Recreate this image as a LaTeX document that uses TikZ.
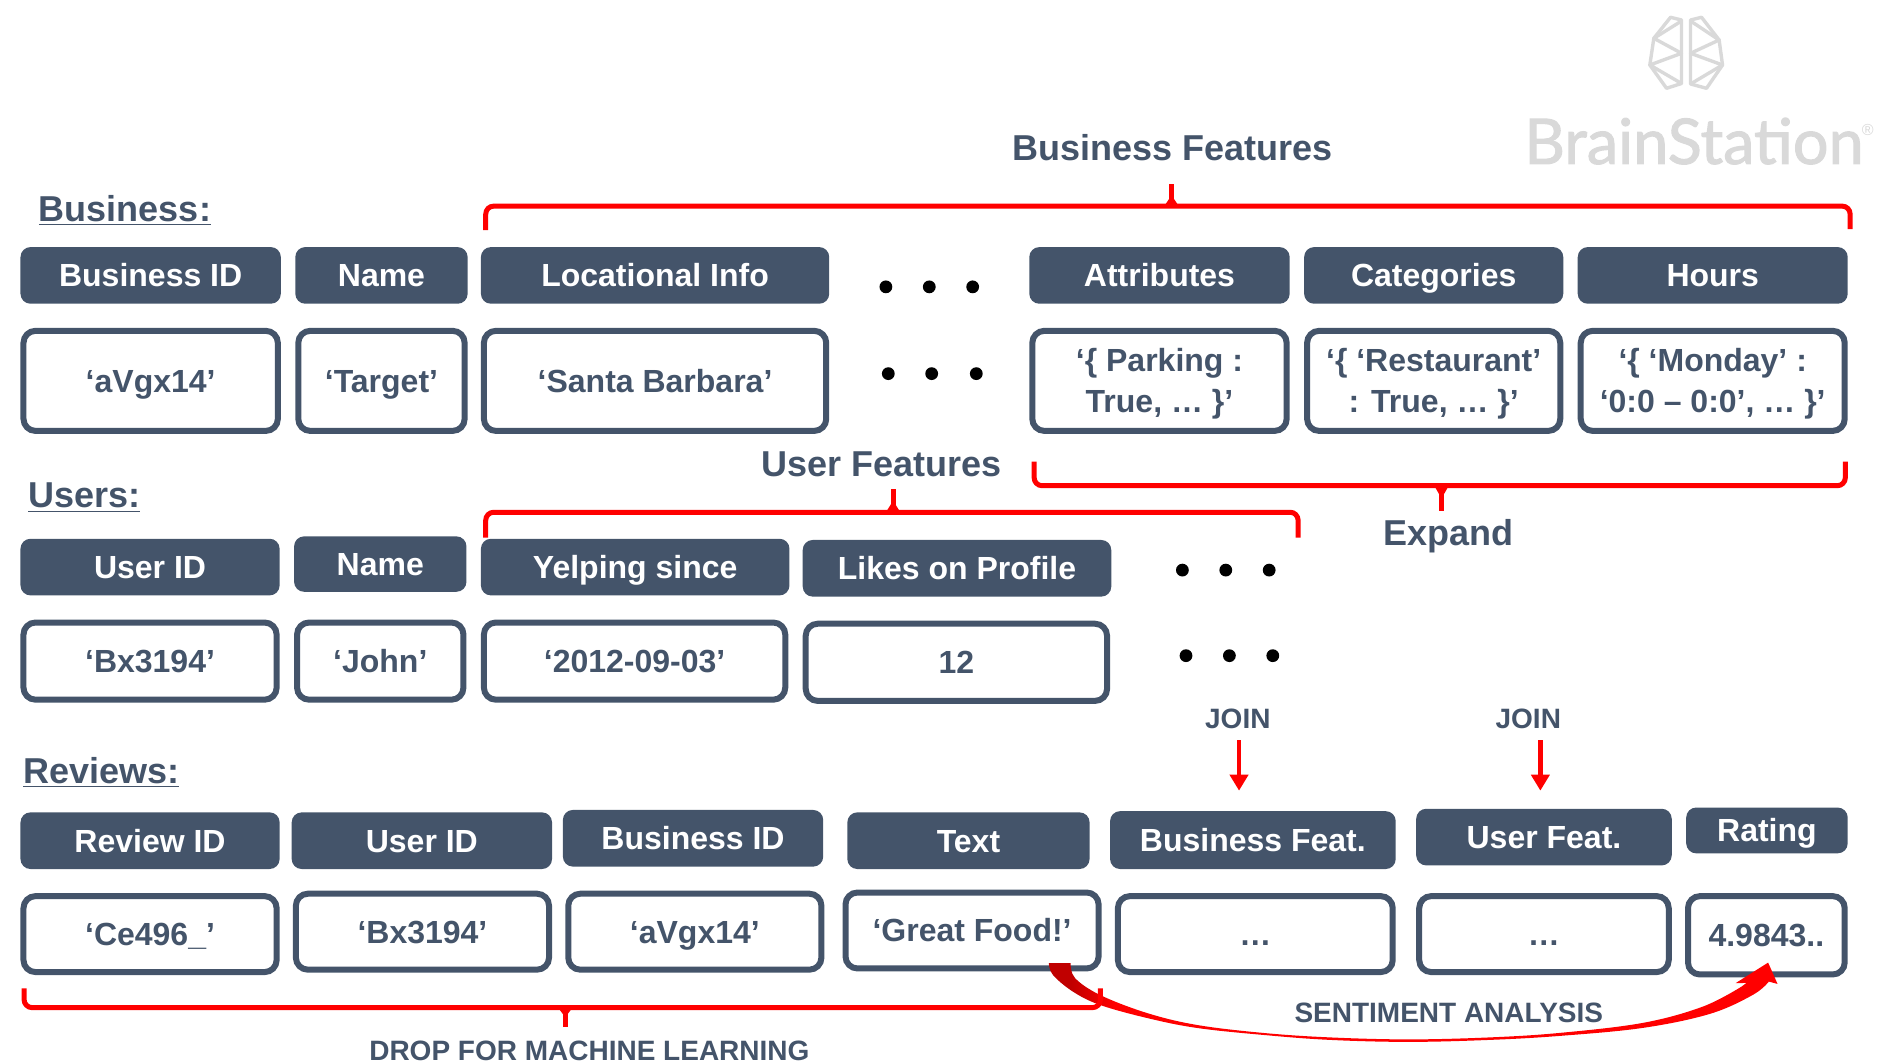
\documentclass[tikz,border=0pt]{standalone}
\usepackage{fontspec}
\setmainfont{Liberation Sans}
\newfontfamily\logofont[FakeBold=1.6]{Lato}
\usetikzlibrary{arrows.meta}
\definecolor{slate}{HTML}{44546A}
\definecolor{logogray}{HTML}{D9D9D9}
\definecolor{swooshdark}{HTML}{C00000}
\pgfdeclarehorizontalshading{swooshfade}{100bp}{color(0bp)=(swooshdark); color(26.5bp)=(swooshdark); color(29.5bp)=(red); color(100bp)=(red)}
\newcommand{\vstrut}{\rule[-4pt]{0pt}{19.5pt}}
\tikzset{
  hdr/.style={draw=none,fill=slate,text=white,rounded corners=5pt,inner sep=0pt,outer sep=0pt,align=center,font=\fontsize{16}{19.3}\selectfont\bfseries},
  valb/.style={draw=slate,line width=3pt,fill=white,text=slate,rounded corners=6pt,inner sep=0pt,outer sep=0pt,align=center,font=\fontsize{16}{19.3}\selectfont\bfseries},
  title/.style={text=slate,inner sep=0pt,font=\fontsize{18}{22}\selectfont\bfseries},
  small/.style={text=slate,inner sep=0pt,font=\fontsize{14}{16}\selectfont\bfseries},
  bracket/.style={draw=red,line width=2.5pt,rounded corners=4pt},
  tickline/.style={draw=red,line width=2.4pt},
  joinarrow/.style={draw=red,line width=2.4pt,-{Triangle[length=8pt,width=9pt]}},
  dotm/.style={circle,fill=black,minimum size=6.4pt,inner sep=0pt},
  logoline/.style={draw=logogray,line width=1.7pt,line join=round},
  px/.style={x=0.5pt,y=-0.5pt}
}
\newcommand{\hdrbox}[6]{\node[hdr,minimum width={(#4-#2)*0.6027pt},minimum height={(#5-#3)*0.6027pt}] (#1) at ({(#2+#4)/2},{(#3+#5)/2}) {\vstrut #6};}
\newcommand{\valbox}[6]{\node[valb,minimum width={(#4-#2)*0.6027pt-3pt},minimum height={(#5-#3)*0.6027pt-3pt}] (#1) at ({(#2+#4)/2},{(#3+#5)/2}) {\vstrut #6\vstrut};}
\newcommand{\bracktick}[3]{\fill[red] (#1-6,#2) -- (#1,{#2+(#3-#2)*0.5}) -- (#1+6,#2) -- cycle; \draw[tickline] (#1,#2) -- (#1,#3);}
\begin{document}
\begin{tikzpicture}[x=0.6027pt,y=-0.6027pt]
\useasboundingbox (0,0) rectangle (1568.1,881.9);
% logo, in picture pixels
\begin{scope}[px]
\draw[logoline] (1681.7,20) -- (1670.7,17.3) -- (1654,38.3) -- (1650,65) -- (1666.7,88.3) -- (1681.7,83.5) -- cycle;
\draw[logoline] (1681.7,21) -- (1654,38.3) -- (1681.7,53.3) -- (1650,65) -- (1681.7,83.5);
\draw[logoline] (1690.7,20) -- (1701.7,17.3) -- (1719.3,40) -- (1722.7,65) -- (1706.7,88.3) -- (1690.7,84) -- cycle;
\draw[logoline] (1690.7,21) -- (1719.3,40) -- (1690.7,53.3) -- (1722.7,65) -- (1690.7,84);
\node[anchor=base west,inner sep=0pt,text=logogray,font=\logofont\fontsize{31.5}{31.5}\selectfont] (logo) at (1524,164) {BrainStation};
\node[inner sep=0pt,text=logogray,font=\fontsize{8}{8}\selectfont] (reg) at (1868,130) {®};
\end{scope}
% titles
\node[title] (tbf) at (972.5,122.5) {Business Features};
\node[title,anchor=west] (tbus) at (32,174.5) {\underline{Business:}};
\node[title,anchor=west] (tusr) at (23,413) {\underline{Users:}};
\node[title,anchor=west] (trev) at (19,641) {\underline{Reviews:}};
\node[title] (tuf) at (731,385) {User Features};
\node[title] (texp) at (1201.5,445) {Expand};
\node[small] (join1) at (1027,596.5) {JOIN};
\node[small] (join2) at (1268,596.5) {JOIN};
\node[small] (tsent) at (1202,840) {SENTIMENT ANALYSIS};
\node[small] (tdrop) at (489,872) {DROP FOR MACHINE LEARNING};
% business
\hdrbox{bh1}{17}{205}{233}{252}{Business ID}
\hdrbox{bh2}{245}{205}{388}{252}{Name}
\hdrbox{bh3}{399}{205}{688}{252}{Locational Info}
\hdrbox{bh4}{854}{205}{1070}{252}{Attributes}
\hdrbox{bh5}{1082}{205}{1297}{252}{Categories}
\hdrbox{bh6}{1309}{205}{1533}{252}{Hours}
\valbox{bv1}{17}{272}{233}{360}{‘aVgx14’}
\valbox{bv2}{245}{272}{388}{360}{‘Target’}
\valbox{bv3}{399}{272}{688}{360}{‘Santa Barbara’}
\valbox{bv4}{854}{272}{1070}{360}{‘\{ Parking :\\True, … \}’}
\valbox{bv5}{1082}{272}{1297}{360}{‘\{ ‘Restaurant’\\: True, … \}’}
\valbox{bv6}{1309}{272}{1533}{360}{‘\{ ‘Monday’ :\\‘0:0 – 0:0’, … \}’}
% users
\hdrbox{uh1}{17}{447}{232}{494}{User ID}
\hdrbox{uh2}{244}{445}{387}{491}{Name}
\hdrbox{uh3}{399}{447}{655}{494}{Yelping since}
\hdrbox{uh4}{666}{448}{922}{495}{Likes on Profile}
\valbox{uv1}{17}{514}{232}{583}{‘Bx3194’}
\valbox{uv2}{244}{514}{387}{583}{‘John’}
\valbox{uv3}{399}{514}{654}{583}{‘2012-09-03’}
\valbox{uv4}{666}{515}{921}{584}{12}
% reviews
\hdrbox{rh1}{17}{674}{232}{721}{Review ID}
\hdrbox{rh2}{242}{674}{458}{721}{User ID}
\hdrbox{rh3}{467}{672}{683}{719}{Business ID}
\hdrbox{rh4}{703}{674}{904}{721}{Text}
\hdrbox{rh5}{921}{673}{1158}{721}{Business Feat.}
\hdrbox{rh6}{1175}{671}{1387}{718}{User Feat.}
\hdrbox{rh7}{1399}{670}{1533}{708}{Rating}
\valbox{rv1}{17}{741}{232}{809}{‘Ce496\_’}
\valbox{rv2}{243}{739}{458}{807}{‘Bx3194’}
\valbox{rv3}{469}{739}{684}{807}{‘aVgx14’}
\valbox{rv4}{699}{738}{914}{806}{‘Great Food!’}
\valbox{rv5}{925}{741}{1158}{809}{…}
\valbox{rv6}{1175}{741}{1387}{809}{…}
\valbox{rv7}{1398}{741}{1533}{811}{4.9843..}
% dots
\foreach \n/\x/\y in {a1/735/238,a2/771/238,a3/807/238,b1/737/310,b2/773/310,b3/810/310,c1/981/473,c2/1017/473,c3/1053/473,d1/984/544,d2/1020/544,d3/1056/544}
  \node[dotm] (dot\n) at (\x,\y) {};
% brackets
\draw[bracket] (403,191) -- (403,171) -- (1535,171) -- (1535,190);
\bracktick{972}{171}{153}
\draw[bracket] (403,446) -- (403,425) -- (1077,425) -- (1077,446);
\bracktick{741}{425}{406}
\draw[bracket] (858,383) -- (858,403) -- (1531,403) -- (1531,383);
\bracktick{1196}{403}{424}
% join arrows
\coordinate (j1a) at (1028,614);
\coordinate (j1b) at (1028,656);
\coordinate (j2a) at (1278,614);
\coordinate (j2b) at (1278,656);
\draw[joinarrow] (j1a) -- (j1b);
\draw[joinarrow] (j2a) -- (j2b);
% sentiment swoosh, in picture pixels
\begin{scope}[px]
\shade[shading=swooshfade]
  plot[smooth,tension=0.6] coordinates {(1049,963.3) (1053,975) (1073,991.7) (1100,1005) (1146.7,1018) (1196.7,1028) (1263,1035) (1330,1040) (1409,1042) (1490,1040) (1560,1036) (1643,1028) (1710,1014) (1753,995) (1769,981.7)}
  -- (1777.7,984) -- (1768.3,962.7) -- (1735.7,983.3) -- (1746.7,983) --
  plot[smooth,tension=0.6] coordinates {(1741.7,986.7) (1703,1006.7) (1643,1023) (1560,1033) (1490,1037.5) (1409,1039.5) (1330,1037.5) (1263,1033) (1196.7,1025) (1146.7,1013) (1100,995) (1075,978) (1070.7,963.3)}
  -- cycle;
\end{scope}
% drop bracket, over the swoosh as in the picture
\draw[bracket] (20,820) -- (20,836) -- (913,836) -- (913,820);
\bracktick{469}{836}{852}
\end{tikzpicture}
\end{document}
